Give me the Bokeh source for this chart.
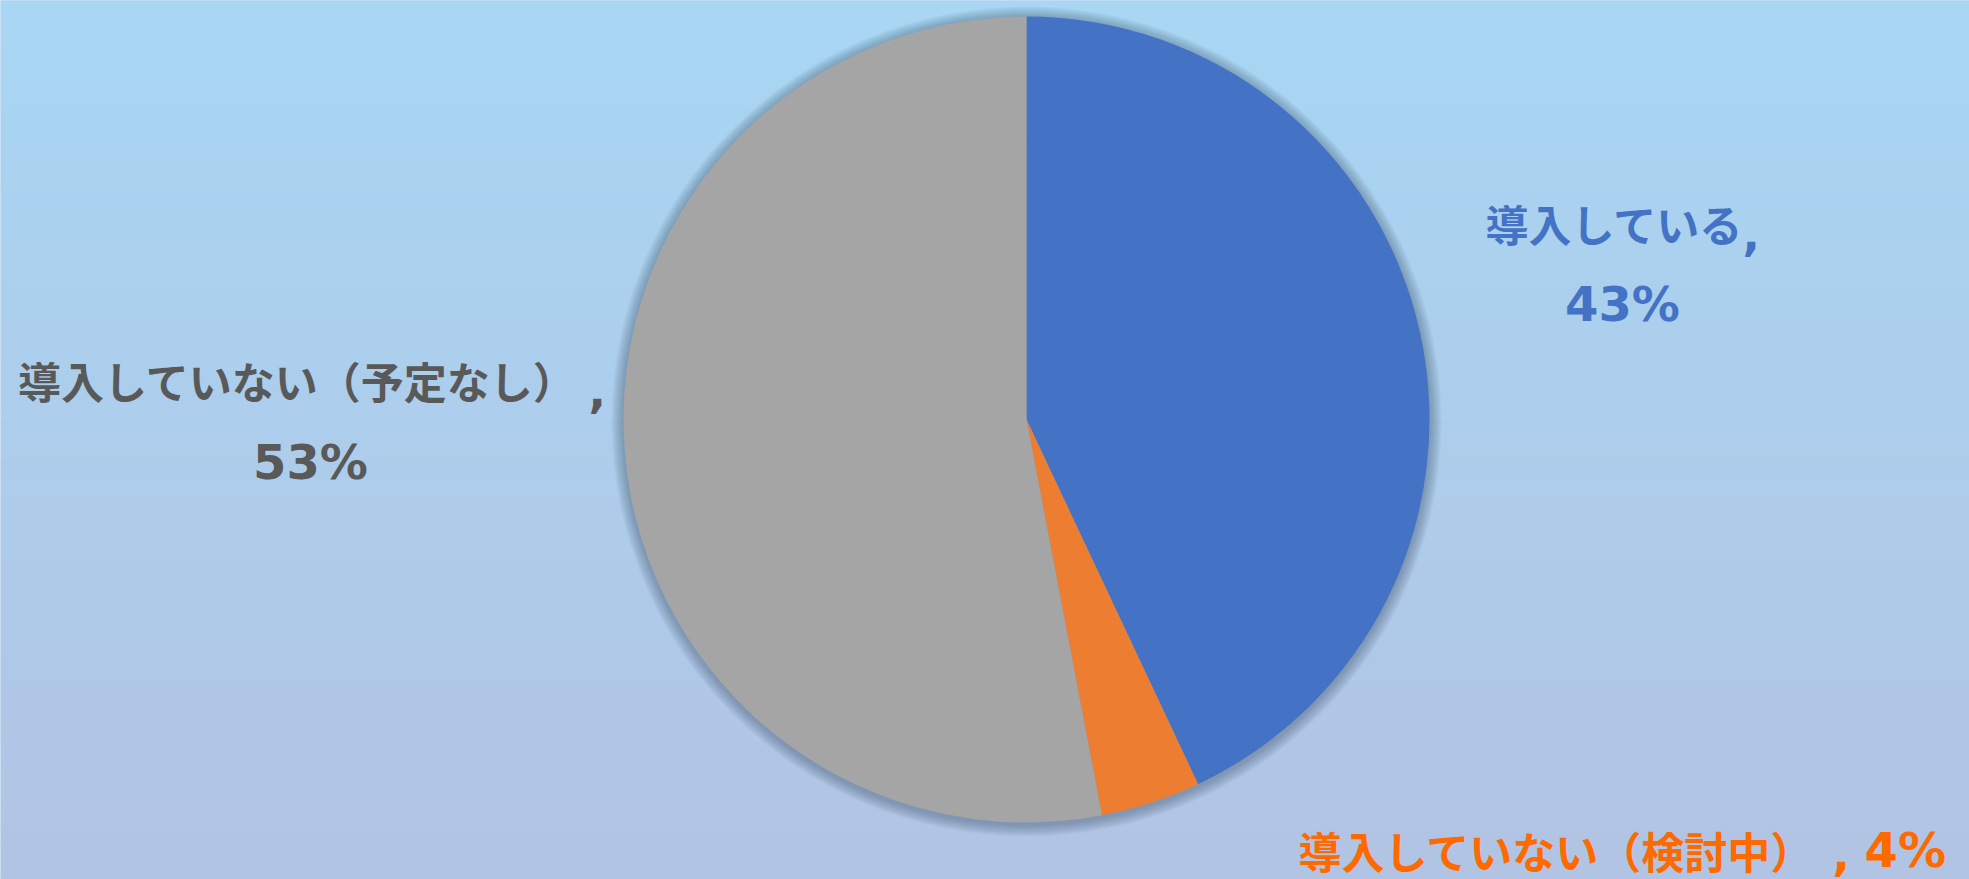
import numpy as np
from bokeh.plotting import figure
from bokeh.models import ColumnDataSource
from bokeh.core.properties import value
from bokeh.embed import file_html
from bokeh.resources import INLINE

# ---- data ----
categories = ["導入している", "導入していない（検討中）", "導入していない（予定なし）"]
percents = [43, 4, 53]
slice_colors = ["#4472C4", "#ED7D31", "#A5A5A5"]
label_colors = ["#4472C4", "#FF6A00", "#595959"]

W, H = 1969, 879
p = figure(width=W, height=H, x_range=(0, W), y_range=(0, H),
           output_backend="svg", toolbar_location=None, min_border=0)
p.axis.visible = False
p.grid.visible = False
p.outline_line_color = None
p.background_fill_color = "#aacbee"
p.border_fill_color = "#aacbee"

# background gradient (styling)
top = np.array([168, 215, 244])
bot = np.array([179, 196, 228])
n = 88
ys = np.linspace(0, H, n + 1)
cols = []
for i in range(n):
    t = 1 - (ys[i] + ys[i + 1]) / 2 / H
    c = top * (1 - t) + bot * t
    cols.append("#%02x%02x%02x" % tuple(int(v) for v in c))
p.quad(left=0, right=W, bottom=ys[:-1], top=ys[1:] + 0.5, fill_color=cols, line_color=None)

cx, cy, r = 1026, H - 419, 403

# soft shadow
for k in range(12, 0, -1):
    p.circle(x=cx, y=cy - 2, radius=r + k, fill_color="#3a5a7a", fill_alpha=0.045, line_color=None)

vals = np.array(percents, dtype=float)
frac = vals / vals.sum()
cum = np.concatenate([[0], np.cumsum(frac)])
start = np.pi / 2 - 2 * np.pi * cum[:-1]
end = np.pi / 2 - 2 * np.pi * cum[1:]
src = ColumnDataSource(dict(start=start, end=end, color=slice_colors))
p.wedge(x=cx, y=cy, radius=r, start_angle="start", end_angle="end", direction="clock",
        fill_color="color", line_color=None, source=src)

# labels
jp = value("Noto Sans CJK JP")
lat = value("DejaVu Sans")
def lab(x, y, txt, color, font, size, align="center"):
    p.text(x=[x], y=[H - y], text=[txt], text_align=align, text_baseline="middle",
           text_font=font, text_font_style="bold", text_font_size=size, text_color=color)

lab(1614, 222, categories[0], label_colors[0], jp, "43px")
lab(1742, 232, ",", label_colors[0], lat, "46px", "left")
lab(1622, 303, f"{percents[0]}%", label_colors[0], lat, "48px")

lab(297, 379, categories[2], label_colors[2], jp, "43px")
lab(588, 389, ",", label_colors[2], lat, "46px", "left")
lab(310, 461, f"{percents[2]}%", label_colors[2], lat, "48px")

lab(1556, 849, categories[1], label_colors[1], jp, "43px")
lab(1832, 852, ",", label_colors[1], lat, "46px", "left")
lab(1864, 849, f"{percents[1]}%", label_colors[1], lat, "48px", "left")

open("out.html", "w").write(file_html(p, INLINE))
